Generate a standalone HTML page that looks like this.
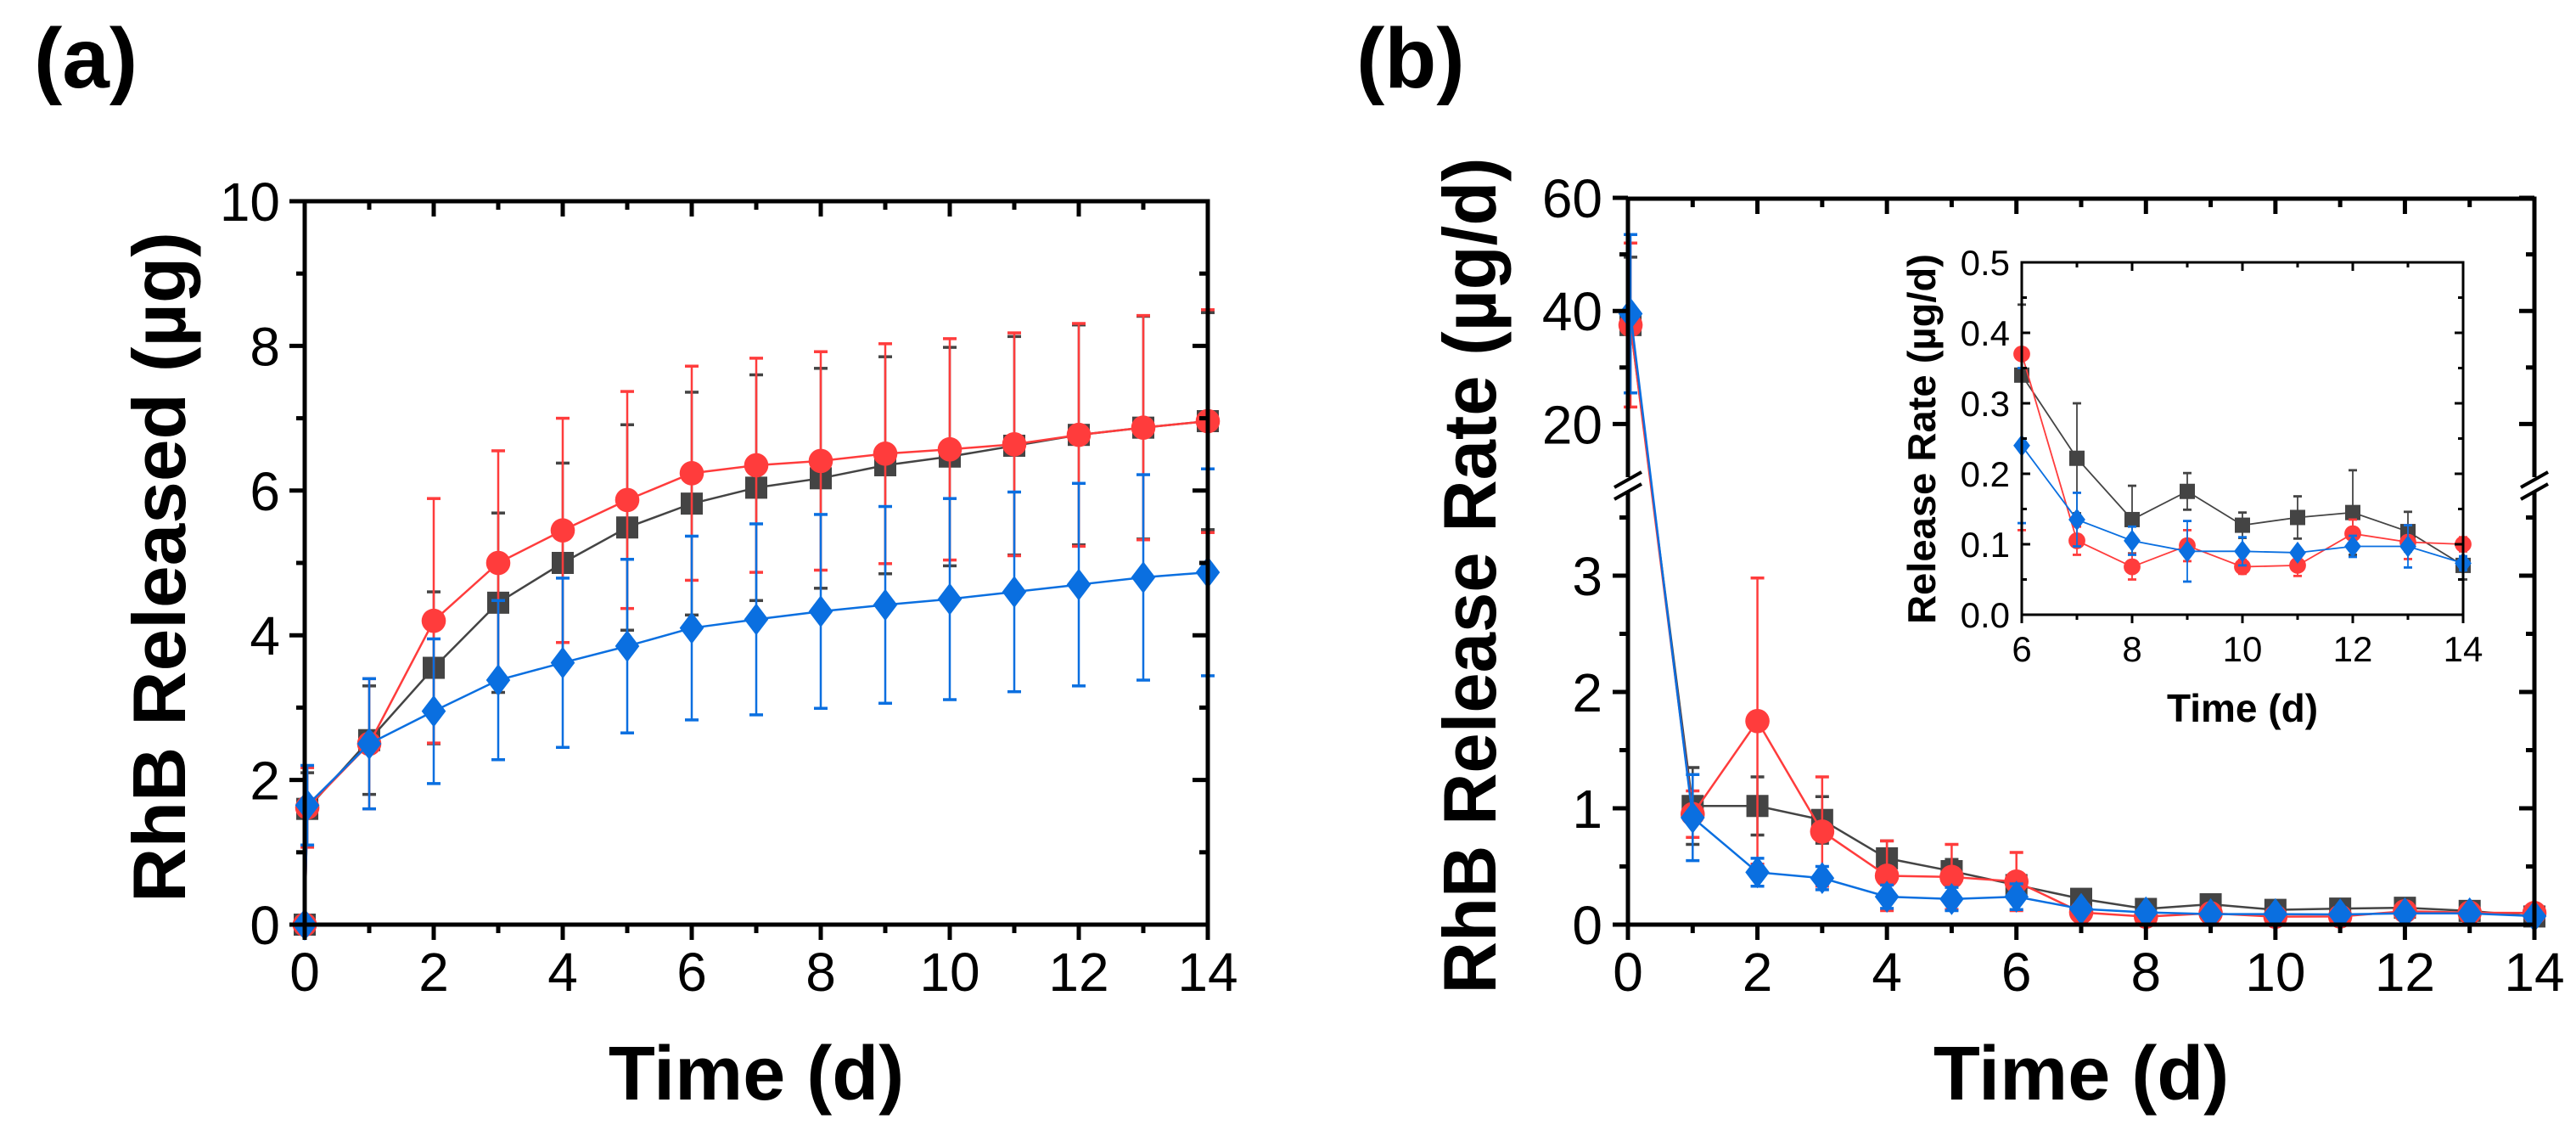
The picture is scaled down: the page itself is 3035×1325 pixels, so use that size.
<!DOCTYPE html>
<html><head><meta charset="utf-8"><style>
html,body{margin:0;padding:0;background:#fff}
svg{display:block;font-family:"Liberation Sans",Arial,sans-serif}
</style></head><body>
<svg id="fig" width="3035" height="1325" viewBox="0 0 3035 1325" xmlns="http://www.w3.org/2000/svg">
<text x="40" y="103" font-size="100" font-weight="bold">(a)</text>
<text x="1598" y="103" font-size="100" font-weight="bold">(b)</text>
<text x="891" y="1295" font-size="90" font-weight="bold" text-anchor="middle">Time (d)</text>
<text x="2452" y="1295" font-size="90" font-weight="bold" text-anchor="middle">Time (d)</text>
<text transform="translate(218,668) rotate(-90)" font-size="88" font-weight="bold" text-anchor="middle" textLength="790" lengthAdjust="spacingAndGlyphs">RhB Released (µg)</text>
<text transform="translate(1762,678) rotate(-90)" font-size="88" font-weight="bold" text-anchor="middle" textLength="985" lengthAdjust="spacingAndGlyphs">RhB Release Rate (µg/d)</text>
<g id="ga"></g>
<g id="gb"></g>
<g id="gi"></g>
</svg>
<script>
// ---- Panel (a) data ----
const timesA = [0, 0.04, 1, 2, 3, 4, 5, 6, 7, 8, 9, 10, 11, 12, 13, 14];
const blackA = [0, 1.6, 2.55, 3.55, 4.45, 5.0, 5.49, 5.82, 6.04, 6.17, 6.35, 6.47, 6.62, 6.77, 6.87, 6.96];
const blackAsd = [0, 0.5, 0.75, 1.05, 1.24, 1.38, 1.42, 1.54, 1.56, 1.52, 1.5, 1.51, 1.51, 1.52, 1.54, 1.5];
const redA = [0, 1.62, 2.5, 4.2, 5.0, 5.45, 5.87, 6.24, 6.35, 6.41, 6.51, 6.57, 6.64, 6.77, 6.87, 6.96];
const redAsd = [0, 0.55, 0.9, 1.69, 1.55, 1.55, 1.5, 1.48, 1.48, 1.51, 1.52, 1.53, 1.54, 1.54, 1.55, 1.54];
const blueA = [0, 1.65, 2.5, 2.95, 3.38, 3.62, 3.85, 4.1, 4.22, 4.33, 4.42, 4.5, 4.6, 4.7, 4.8, 4.87];
const blueAsd = [0, 0.55, 0.9, 1.0, 1.1, 1.17, 1.2, 1.27, 1.32, 1.34, 1.36, 1.39, 1.38, 1.4, 1.42, 1.43];
const yTicksA = [0, 2, 4, 6, 8, 10];
const xTicks = [0, 2, 4, 6, 8, 10, 12, 14];
// ---- Panel (b) data ----
const timesB = [0.04, 1, 2, 3, 4, 5, 6, 7, 8, 9, 10, 11, 12, 13, 14];
const blackB = [37.5, 1.02, 1.02, 0.9, 0.57, 0.46, 0.34, 0.222, 0.135, 0.175, 0.127, 0.138, 0.145, 0.118, 0.07];
const blackBsd = [12, 0.33, 0.25, 0.2, 0.15, 0.1, 0.1, 0.078, 0.048, 0.026, 0.018, 0.03, 0.06, 0.028, 0.02];
const redB = [37.5, 0.95, 1.75, 0.8, 0.42, 0.41, 0.37, 0.105, 0.068, 0.098, 0.068, 0.07, 0.115, 0.103, 0.1];
const redBsd = [14.5, 0.2, 1.23, 0.47, 0.3, 0.28, 0.25, 0.02, 0.018, 0.022, 0.01, 0.015, 0.02, 0.024, 0.01];
const blueB = [39.5, 0.92, 0.45, 0.4, 0.24, 0.22, 0.24, 0.135, 0.105, 0.09, 0.09, 0.088, 0.097, 0.097, 0.073];
const blueBsd = [14, 0.37, 0.12, 0.1, 0.1, 0.1, 0.11, 0.038, 0.02, 0.043, 0.02, 0.003, 0.015, 0.03, 0.01];
const yTicksBLow = [0, 1, 2, 3];
const yTicksBHigh = [20, 40, 60];
const insetXTicks = [6, 8, 10, 12, 14];
const insetYTicks = [0.0, 0.1, 0.2, 0.3, 0.4, 0.5];

const NS = "http://www.w3.org/2000/svg";
const COL = {black:"#444444", red:"#ff3c3c", blue:"#0a6fe0"};
function mk(parent, tag, attrs){const e=document.createElementNS(NS,tag);for(const k in attrs)e.setAttribute(k,attrs[k]);parent.appendChild(e);return e;}
function line(p,x1,y1,x2,y2,c,w){return mk(p,"line",{x1,y1,x2,y2,stroke:c,"stroke-width":w});}
function marker(p,type,x,y,s,c){
  let e;
  if(type==="square") e=mk(p,"rect",{x:x-s,y:y-s,width:2*s,height:2*s,fill:c});
  else if(type==="circle") e=mk(p,"circle",{cx:x,cy:y,r:s*1.1,fill:c});
  else e=mk(p,"polygon",{points:`${x},${y-s*1.45} ${x+s*1.1},${y} ${x},${y+s*1.45} ${x-s*1.1},${y}`,fill:c});
  return e;
}
function series(p,name,xs,ys,sds,sx,sy,type,c,ms,lw,cap){
  const g=mk(p,"g",{});
  
  
  for(let i=0;i<xs.length;i++){
    const X=sx(xs[i]);
    const eb=line(g,X,sy(ys[i]+sds[i]),X,sy(Math.max(ys[i]-sds[i],0)),c,lw);
    
    
    line(g,X-cap,sy(ys[i]+sds[i]),X+cap,sy(ys[i]+sds[i]),c,lw+1);
    line(g,X-cap,sy(Math.max(ys[i]-sds[i],0)),X+cap,sy(Math.max(ys[i]-sds[i],0)),c,lw+1);
  }
  const pts=xs.map((x,i)=>sx(x)+","+sy(ys[i])).join(" ");
  const pl=mk(g,"polyline",{points:pts,fill:"none",stroke:c,"stroke-width":lw});
  
  
  for(let i=0;i<xs.length;i++){
    const m=marker(g,type,sx(xs[i]),sy(ys[i]),ms,c);
    
    
  }
}

// ===== Panel (a) =====
(function(){
  const g=document.getElementById("ga");
  const L=359,R=1423,T=237,B=1089;
  const sx=v=>L+(v/14)*(R-L), sy=v=>B-(v/10)*(B-T);
  series(g,"series-black-a",timesA,blackA,blackAsd,sx,sy,"square",COL.black,13,2.5,8);
  series(g,"series-red-a",timesA,redA,redAsd,sx,sy,"circle",COL.red,13,2.5,8);
  series(g,"series-blue-a",timesA,blueA,blueAsd,sx,sy,"diamond",COL.blue,13,2.5,8);
  const ax=mk(g,"rect",{x:L,y:T,width:R-L,height:B-T,fill:"none",stroke:"#000","stroke-width":5});
  
  
  for(let v=0;v<=14;v++){
    const X=sx(v), maj=v%2===0, len=maj?18:10;
    line(g,X,B,X,B+len,"#000",5); line(g,X,T,X,T+len,"#000",5);
  }
  for(let v=0;v<=10;v++){
    const Y=sy(v), maj=v%2===0, len=maj?18:10;
    line(g,L,Y,L-len,Y,"#000",5); line(g,R,Y,R-len,Y,"#000",5);
  }
  xTicks.forEach(v=>{const t=mk(g,"text",{x:sx(v),y:1167,"font-size":64,"text-anchor":"middle"});t.textContent=v;
    });
  yTicksA.forEach(v=>{const t=mk(g,"text",{x:330,y:sy(v)+23,"font-size":64,"text-anchor":"end"});t.textContent=v;
    });
})();

// ===== Panel (b) =====
(function(){
  const g=document.getElementById("gb");
  const L=1918,R=2986,T=234,B=1089;
  const sx=v=>L+(v/14)*(R-L);
  const sy=v=>{ if(v<=3.75) return B-v*137; if(v>=10) return 566-(v-10)*6.66; return (B-3.75*137)+(v-3.75)/(6.25)*(566-(B-3.75*137)); };
  series(g,"series-black-b",timesB,blackB,blackBsd,sx,sy,"square",COL.black,13,2.5,8);
  series(g,"series-red-b",timesB,redB,redBsd,sx,sy,"circle",COL.red,13,2.5,8);
  series(g,"series-blue-b",timesB,blueB,blueBsd,sx,sy,"diamond",COL.blue,13,2.5,8);
  const ax=mk(g,"rect",{x:L,y:T,width:R-L,height:B-T,fill:"none",stroke:"#000","stroke-width":5});
  
  
  for(let v=0;v<=14;v++){
    const X=sx(v), maj=v%2===0, len=maj?18:10;
    line(g,X,B,X,B+len,"#000",5); line(g,X,T,X,T+len,"#000",5);
  }
  [0,0.5,1,1.5,2,2.5,3,3.5,20,30,40,50,60].forEach(v=>{
    const Y=sy(v), maj=(v%1===0&&v<10)||(v>=10&&v%20===0), len=maj?18:10;
    line(g,L,Y,L-len,Y,"#000",5); line(g,R,Y,R-len,Y,"#000",5);
  });
  [L,R].forEach(X=>{
    mk(g,"rect",{x:X-14,y:562,width:28,height:16,fill:"#fff"});
    line(g,X-16,574,X+16,556,"#000",4);
    line(g,X-16,588,X+16,570,"#000",4);
  });
  xTicks.forEach(v=>{const t=mk(g,"text",{x:sx(v),y:1167,"font-size":64,"text-anchor":"middle"});t.textContent=v;
    });
  yTicksBLow.concat(yTicksBHigh).forEach(v=>{const t=mk(g,"text",{x:1888,y:sy(v)+23,"font-size":64,"text-anchor":"end"});t.textContent=v;
    });
})();

// ===== Inset =====
(function(){
  const g=document.getElementById("gi");
  const L=2382,R=2902,T=309,B=724;
  const sx=v=>L+((v-6)/8)*(R-L), sy=v=>B-(v/0.5)*(B-T);
  const bg=mk(g,"rect",{x:L,y:T,width:R-L,height:B-T,fill:"#fff"});
  
  
  const defs=mk(g,"defs",{});
  const cp=mk(defs,"clipPath",{id:"insetClip"});
  mk(cp,"rect",{x:L-12,y:T,width:R-L+24,height:B-T});
  const dg=mk(g,"g",{"clip-path":"url(#insetClip)"});
  const idx=timesB.map((t,i)=>i).filter(i=>timesB[i]>=6);
  const pick=a=>idx.map(i=>a[i]);
  series(dg,"series-black-inset",pick(timesB),pick(blackB),pick(blackBsd),sx,sy,"square",COL.black,9,1.8,5);
  series(dg,"series-red-inset",pick(timesB),pick(redB),pick(redBsd),sx,sy,"circle",COL.red,9,1.8,5);
  series(dg,"series-blue-inset",pick(timesB),pick(blueB),pick(blueBsd),sx,sy,"diamond",COL.blue,9,1.8,5);
  const ax=mk(g,"rect",{x:L,y:T,width:R-L,height:B-T,fill:"none",stroke:"#000","stroke-width":3});
  
  
  for(let v=6;v<=14;v++){const X=sx(v),len=v%2===0?10:6; line(g,X,B,X,B+len,"#000",3); line(g,X,T,X,T+len,"#000",3);}
  for(let k=0;k<=10;k++){const v=k*0.05,Y=sy(v),len=k%2===0?10:6; line(g,L,Y,L+len,Y,"#000",3); line(g,R,Y,R-len,Y,"#000",3);}
  insetXTicks.forEach(v=>{const t=mk(g,"text",{x:sx(v),y:779,"font-size":42,"text-anchor":"middle"});t.textContent=v;
    });
  insetYTicks.forEach(v=>{const t=mk(g,"text",{x:2368,y:sy(v)+15,"font-size":42,"text-anchor":"end"});t.textContent=v.toFixed(1);
    });
  const xt=mk(g,"text",{x:(L+R)/2,y:850,"font-size":46,"font-weight":"bold","text-anchor":"middle"});xt.textContent="Time (d)";
  
  const yt=mk(g,"text",{transform:"translate(2280,517) rotate(-90)","font-size":46,"font-weight":"bold","text-anchor":"middle",textLength:436,lengthAdjust:"spacingAndGlyphs"});yt.textContent="Release Rate (µg/d)";
  
})();
</script>
</body></html>
